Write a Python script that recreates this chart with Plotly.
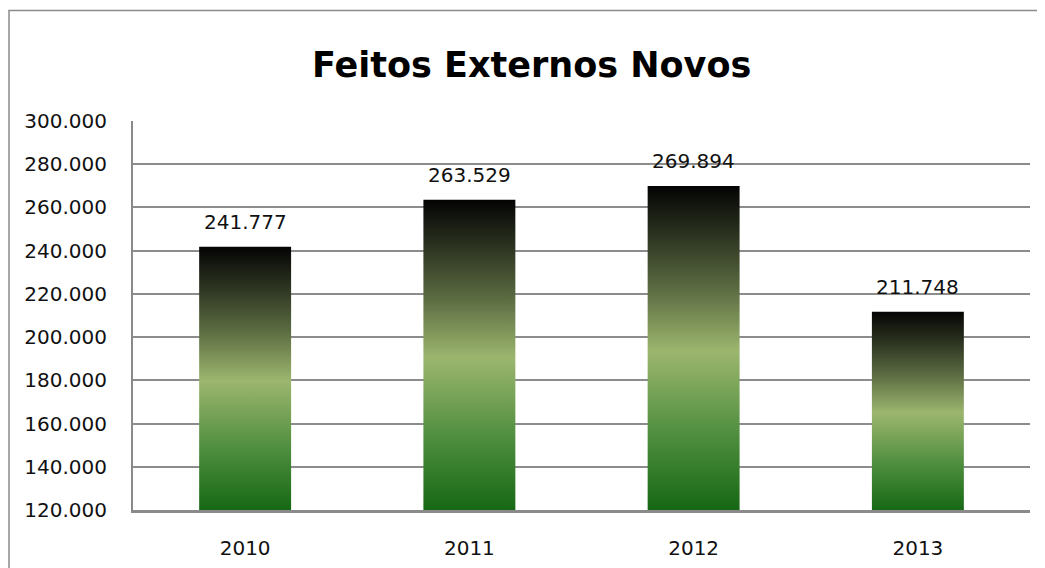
import plotly.graph_objects as go

years = ["2010", "2011", "2012", "2013"]
values = [241777, 263529, 269894, 211748]
labels = ["241.777", "263.529", "269.894", "211.748"]
y_min, y_max, y_step = 120000, 300000, 20000

bar_half = 0.205
gradient = [
    [0.0, "rgb(22,104,20)"],
    [0.22, "rgb(75,140,60)"],
    [0.49, "rgb(156,182,110)"],
    [0.68, "rgb(92,108,66)"],
    [0.84, "rgb(46,54,34)"],
    [1.0, "rgb(4,4,4)"],
]

fig = go.Figure()
for i, (yr, v) in enumerate(zip(years, values)):
    xs = [i - bar_half, i + bar_half, i + bar_half, i - bar_half, i - bar_half]
    ys = [y_min, y_min, v, v, y_min]
    fig.add_trace(go.Scatter(
        x=xs, y=ys, mode="lines", fill="toself",
        line=dict(width=0, color="rgba(0,0,0,0)"),
        fillgradient=dict(type="vertical", colorscale=gradient),
        hoverinfo="skip", showlegend=False, name=yr,
    ))

for i, (v, t) in enumerate(zip(values, labels)):
    fig.add_annotation(x=i, y=v, text=t, showarrow=False, yanchor="bottom",
                       yshift=11, font=dict(family="DejaVu Sans", size=20, color="#111"))

fig.add_shape(type="rect", xref="paper", yref="paper",
              x0=(1.0 - 125) / 897, x1=1.2, y0=-0.5, y1=1 + (113 - 2.5) / 389,
              line=dict(color="#8a8a8a", width=1.5), fillcolor="rgba(0,0,0,0)", layer="below")

fig.update_layout(
    width=1037, height=560,
    margin=dict(l=125, r=15, t=113, b=58, autoexpand=False),
    paper_bgcolor="white", plot_bgcolor="white",
    separators=",.",
    title=dict(text="<b>Feitos Externos Novos</b>", xref="container", x=0.505, xanchor="center",
               yref="container", y=1 - 57 / 560, yanchor="middle",
               font=dict(family="DejaVu Sans", size=35, color="#000")),
    showlegend=False,
)
fig.update_xaxes(
    range=[-0.5, 3.5], tickmode="array", tickvals=list(range(len(years))), ticktext=years,
    showgrid=False, zeroline=False, showline=True, linecolor="#8a8a8a", linewidth=3,
    ticks="", ticklabelstandoff=18, automargin=False,
    tickfont=dict(family="DejaVu Sans", size=20, color="#111"), fixedrange=True,
)
fig.update_yaxes(
    range=[y_min, y_max], dtick=y_step, tick0=y_min, tickformat=",.0f",
    showgrid=True, gridcolor="#8c8c8c", gridwidth=1.5, zeroline=False,
    showline=True, linecolor="#8a8a8a", linewidth=2, ticks="", ticklabelstandoff=20,
    automargin=False,
    tickfont=dict(family="DejaVu Sans", size=20, color="#111"), fixedrange=True,
)

fig.write_html("out.html")
